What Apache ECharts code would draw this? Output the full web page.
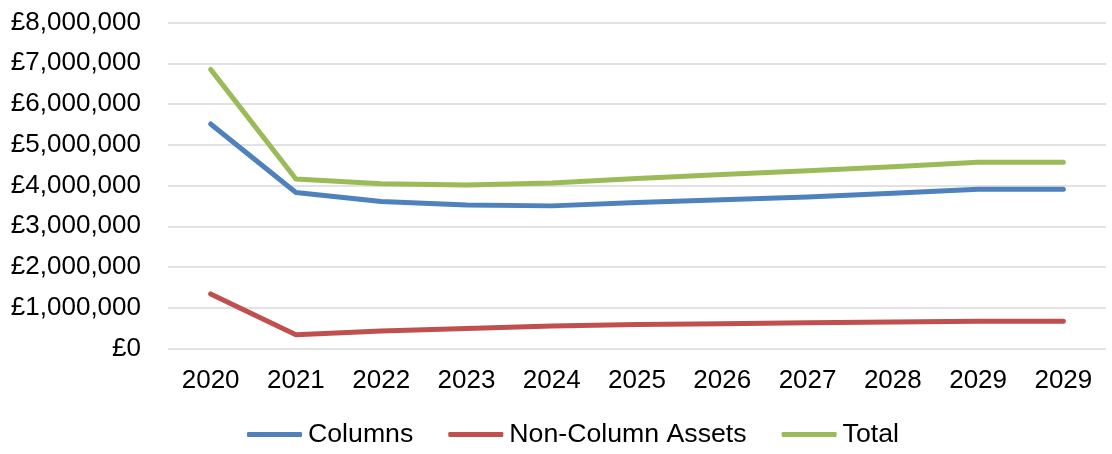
<!DOCTYPE html>
<html>
<head>
<meta charset="utf-8">
<script src="https://cdn.jsdelivr.net/npm/echarts@6/dist/echarts.min.js"></script>
<style>
html,body{margin:0;padding:0;background:#fff;}
#chart{width:1112px;height:454px;}
</style>
</head>
<body>
<div id="chart"></div>
<script>
var categories = ['2020','2021','2022','2023','2024','2025','2026','2027','2028','2029','2029'];
var columns = [5510000, 3830000, 3610000, 3520000, 3500000, 3580000, 3650000, 3720000, 3810000, 3910000, 3910000];
var nonColumnAssets = [1340000, 340000, 430000, 490000, 550000, 590000, 610000, 630000, 650000, 670000, 670000];
var total = [6850000, 4160000, 4040000, 4010000, 4060000, 4170000, 4270000, 4360000, 4460000, 4570000, 4570000];
var seriesNames = ['Columns', 'Non-Column Assets', 'Total'];

var chart = echarts.init(document.getElementById('chart'));
var font = 'Liberation Sans, Arial, sans-serif';
function fmt(v){ return '£' + Math.round(v).toString().replace(/\B(?=(\d{3})+(?!\d))/g, ','); }
function lineSeries(name, data, color){
  return {
    name: name, type: 'line', data: data, symbol: 'none',
    lineStyle: {color: color, width: 5, cap: 'round', join: 'round'},
    itemStyle: {color: color}
  };
}
chart.setOption({
  animation: false,
  grid: {left: 168, right: 6, top: 22.5, bottom: 105.5, containLabel: false},
  legend: {
    bottom: 1, left: 242,
    icon: 'roundRect', itemWidth: 55, itemHeight: 5, itemGap: 35,
    textStyle: {fontFamily: font, fontSize: 26.7, color: '#000', padding: [0,0,0,1]},
    data: seriesNames
  },
  xAxis: {
    type: 'category', data: categories, boundaryGap: true,
    axisLine: {show: false}, axisTick: {show: false},
    axisLabel: {fontFamily: font, fontSize: 26, color: '#000', margin: 19, interval: 0}
  },
  yAxis: {
    type: 'value', min: 0, max: 8000000, interval: 1000000,
    axisLine: {show: false}, axisTick: {show: false},
    splitLine: {lineStyle: {color: '#d9d9d9', width: 1.5}},
    axisLabel: {fontFamily: font, fontSize: 26, color: '#000', margin: 27, formatter: fmt}
  },
  series: [
    lineSeries(seriesNames[0], columns, '#4F81BD'),
    lineSeries(seriesNames[1], nonColumnAssets, '#C0504D'),
    lineSeries(seriesNames[2], total, '#9BBB59')
  ]
});
</script>
</body>
</html>
